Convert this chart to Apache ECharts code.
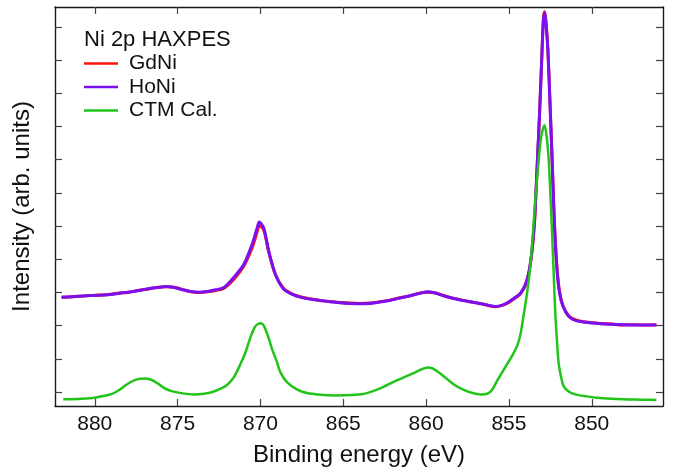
<!DOCTYPE html>
<html>
<head>
<meta charset="utf-8">
<script src="https://cdn.jsdelivr.net/npm/echarts@6/dist/echarts.min.js"></script>
<style>html,body{margin:0;padding:0;background:#fff}#c{width:673px;height:472px}</style>
</head>
<body>
<div id="c"></div>
<script>
// ---- data ----
const xTicks = [850, 855, 860, 865, 870, 875, 880];
const yTicks = [0, 1, 2, 3, 4, 5, 6, 7, 8, 9, 10, 11];

const expEnergy = [882.0,881.3,880.6,880.0,879.3,878.6,878.0,877.4,876.8,876.2,875.7,875.2,874.7,874.2,873.7,873.2,872.7,872.2,871.6,871.0,870.5,870.2,870.07,869.8,869.5,869.1,868.6,868.1,867.6,867.0,866.4,865.8,865.2,864.6,864.0,863.4,862.8,862.2,861.6,861.0,860.4,859.9,859.5,859.0,858.5,858.0,857.4,856.8,856.2,855.8,855.4,855.0,854.6,854.3,854.0,853.8,853.6,853.45,853.3,853.15,853.0,852.92,852.85,852.78,852.65,852.5,852.38,852.25,852.1,851.95,851.75,851.4,851.0,850.5,850.0,849.4,848.8,848.2,847.6,847.0,846.1];
const honiIntensity = [2.86,2.87,2.90,2.91,2.93,2.97,3.01,3.05,3.11,3.15,3.18,3.15,3.08,3.03,3.01,3.03,3.08,3.15,3.46,3.85,4.45,4.94,5.12,4.94,4.25,3.55,3.10,2.95,2.86,2.80,2.76,2.72,2.69,2.67,2.66,2.67,2.71,2.76,2.83,2.90,2.97,3.02,2.99,2.91,2.84,2.78,2.73,2.67,2.61,2.58,2.62,2.72,2.86,2.98,3.25,3.60,4.30,5.20,6.80,8.40,10.30,11.20,11.42,11.20,10.30,8.40,6.80,5.00,3.70,3.00,2.60,2.28,2.16,2.11,2.08,2.06,2.04,2.03,2.02,2.02,2.02];
const gdniIntensity = [2.85,2.88,2.89,2.92,2.93,2.98,3.00,3.06,3.10,3.16,3.17,3.16,3.09,3.02,3.00,3.02,3.06,3.13,3.40,3.80,4.35,4.82,5.01,4.88,4.22,3.55,3.12,2.96,2.87,2.81,2.76,2.73,2.70,2.68,2.67,2.68,2.72,2.77,2.84,2.89,2.98,3.01,2.99,2.92,2.84,2.79,2.72,2.68,2.60,2.57,2.61,2.70,2.84,2.96,3.22,3.58,4.28,5.15,6.75,8.40,10.30,11.25,11.46,11.25,10.35,8.45,6.85,5.05,3.75,3.05,2.62,2.30,2.18,2.12,2.09,2.06,2.05,2.02,2.03,2.02,2.03];

const ctmEnergy = [881.9,880.8,880.0,879.4,879.0,878.6,878.2,877.8,877.4,877.0,876.6,876.2,875.8,875.3,874.7,874.0,873.4,872.9,872.4,872.0,871.6,871.2,870.9,870.6,870.35,870.15,869.96,869.75,869.5,869.3,869.0,868.8,868.4,867.8,867.2,866.4,865.5,864.5,863.8,863.2,862.6,862.0,861.4,860.8,860.3,859.9,859.6,859.2,858.8,858.3,857.8,857.2,856.7,856.3,856.0,855.7,855.4,855.1,854.8,854.5,854.3,854.1,853.9,853.7,853.55,853.4,853.2,853.05,852.85,852.7,852.6,852.5,852.4,852.3,852.2,852.1,852.0,851.85,851.7,851.4,851.0,850.3,849.7,848.5,847.0,846.1];
const ctmIntensity = [-0.22,-0.20,-0.17,-0.11,-0.06,0.04,0.18,0.31,0.39,0.41,0.37,0.26,0.12,0.02,-0.04,-0.07,-0.05,0.00,0.10,0.22,0.45,0.85,1.20,1.65,1.95,2.05,2.07,1.95,1.62,1.30,0.90,0.60,0.30,0.08,-0.03,-0.08,-0.10,-0.09,-0.06,0.03,0.15,0.30,0.43,0.56,0.68,0.74,0.71,0.58,0.42,0.22,0.08,-0.03,-0.07,-0.05,0.08,0.35,0.60,0.85,1.10,1.40,1.75,2.36,3.00,3.85,4.80,5.84,7.00,7.70,8.04,7.60,7.00,6.00,4.85,3.60,2.36,1.55,0.87,0.45,0.18,0.02,-0.07,-0.13,-0.17,-0.21,-0.23,-0.24];

const legendTitle = 'Ni 2p HAXPES';
const seriesNames = ['GdNi', 'HoNi', 'CTM Cal.'];

// ---- chart ----
const FONT = '"Liberation Sans", Arial, Helvetica, sans-serif';
const pairs = (xs, ys) => xs.map((x, i) => [x, ys[i]]);
const axisLineStyle = { color: '#1a1a1a', width: 1.4 };
const tickStyle = { color: '#444', width: 1.2 };

const chart = echarts.init(document.getElementById('c'), null, { renderer: 'canvas' });
chart.setOption({
  animation: false,
  backgroundColor: '#fff',
  color: ['#ff1111', '#7a10f0', '#22c41a'],
  title: {
    text: legendTitle, left: 79, top: 24,
    textStyle: { fontFamily: FONT, fontSize: 22, fontWeight: 'normal', color: '#111', lineHeight: 22 }
  },
  legend: {
    orient: 'vertical', left: 79, top: 48,
    itemWidth: 34, itemHeight: 2.5, itemGap: 2.5, icon: 'rect',
    textStyle: { fontFamily: FONT, fontSize: 21, color: '#111', lineHeight: 21, padding: [0, 0, 0, 6] },
    data: seriesNames
  },
  grid: { left: 55, right: 10, top: 7, bottom: 62 },
  xAxis: [{
    type: 'value', position: 'bottom', inverse: true, min: 845.7, max: 882.4,
    name: 'Binding energy (eV)', nameLocation: 'middle', nameGap: 37,
    nameTextStyle: { fontFamily: FONT, fontSize: 24, color: '#111' },
    axisLine: { show: true, onZero: false, lineStyle: axisLineStyle },
    axisTick: { show: true, inside: true, length: 7, lineStyle: tickStyle, customValues: xTicks },
    axisLabel: { fontFamily: FONT, fontSize: 21, color: '#111', margin: 8, customValues: xTicks },
    splitLine: { show: false }
  }, {
    type: 'value', position: 'top', inverse: true, min: 845.7, max: 882.4,
    axisLine: { show: true, onZero: false, lineStyle: axisLineStyle },
    axisTick: { show: true, inside: true, length: 7, lineStyle: tickStyle, customValues: xTicks },
    axisLabel: { show: false },
    splitLine: { show: false }
  }],
  yAxis: [{
    type: 'value', position: 'left', min: -0.42, max: 11.6,
    name: 'Intensity (arb. units)', nameLocation: 'middle', nameGap: 21,
    nameTextStyle: { fontFamily: FONT, fontSize: 24, color: '#111' },
    axisLine: { show: true, onZero: false, lineStyle: axisLineStyle },
    axisTick: { show: true, inside: true, length: 7, lineStyle: tickStyle, customValues: yTicks },
    axisLabel: { show: false },
    splitLine: { show: false }
  }, {
    type: 'value', position: 'right', min: -0.42, max: 11.6,
    axisLine: { show: true, onZero: false, lineStyle: axisLineStyle },
    axisTick: { show: true, inside: true, length: 7, lineStyle: tickStyle, customValues: yTicks },
    axisLabel: { show: false },
    splitLine: { show: false }
  }],
  series: [
    { name: seriesNames[0], type: 'line', data: pairs(expEnergy, gdniIntensity), showSymbol: false, smooth: 0.3, lineStyle: { width: 3 }, z: 2 },
    { name: seriesNames[1], type: 'line', data: pairs(expEnergy, honiIntensity), showSymbol: false, smooth: 0.3, lineStyle: { width: 3 }, z: 3 },
    { name: seriesNames[2], type: 'line', data: pairs(ctmEnergy, ctmIntensity), showSymbol: false, smooth: 0.3, lineStyle: { width: 2.5 }, z: 4 }
  ]
});
</script>
</body>
</html>
